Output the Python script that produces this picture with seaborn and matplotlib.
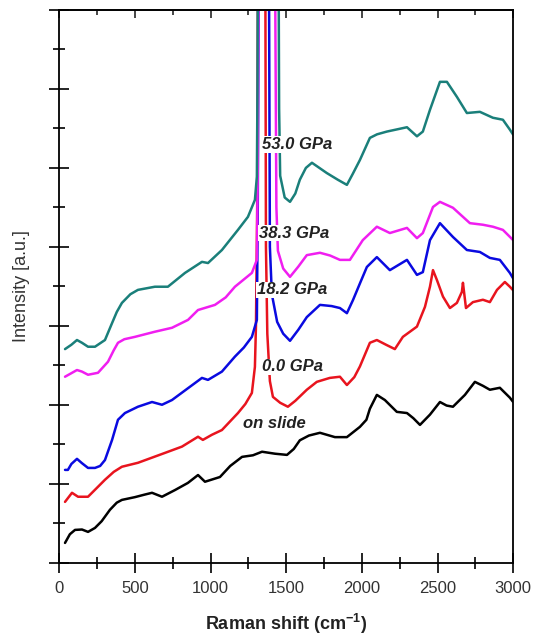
import pandas as pd
import matplotlib
matplotlib.use('Agg')
import matplotlib.pyplot as plt
from matplotlib.ticker import MultipleLocator
import seaborn as sns

# Spectres (décalés verticalement, unités arbitraires)
shift_slide = [38, 70, 104, 150, 190, 236, 280, 335, 380, 414, 500, 560, 613, 679, 765, 850, 917, 963, 1062,
               1130, 1208, 1280, 1340, 1426, 1505, 1550, 1590, 1650, 1723, 1822, 1901, 1987, 2030, 2053, 2099,
               2152, 2231, 2298, 2340, 2384, 2450, 2516, 2560, 2602, 2681, 2747, 2800, 2846, 2912, 2978, 3000]
int_slide = [0.50, 0.72, 0.83, 0.84, 0.78, 0.88, 1.05, 1.34, 1.52, 1.59, 1.66, 1.72, 1.77, 1.67, 1.84, 2.02,
             2.22, 2.05, 2.17, 2.45, 2.68, 2.72, 2.81, 2.76, 2.73, 2.88, 3.10, 3.22, 3.29, 3.18, 3.18, 3.44,
             3.62, 3.90, 4.25, 4.12, 3.82, 3.79, 3.66, 3.49, 3.75, 4.07, 3.98, 3.95, 4.25, 4.58, 4.48, 4.38,
             4.43, 4.18, 4.07]

shift_0 = [38, 84, 124, 190, 250, 302, 360, 414, 520, 698, 811, 917, 949, 1009, 1075, 1181, 1230, 1273, 1293,
           1300, 1308, 1313, 1320, 1355, 1362, 1366, 1375, 1392, 1412, 1460, 1511, 1560, 1636, 1702, 1788,
           1855, 1901, 1950, 1987, 2053, 2099, 2160, 2218, 2271, 2364, 2417, 2450, 2470, 2496, 2536, 2582,
           2628, 2661, 2668, 2688, 2734, 2800, 2846, 2893, 2945, 2978, 3000]
int_0 = [1.54, 1.77, 1.67, 1.67, 1.90, 2.10, 2.30, 2.43, 2.53, 2.78, 2.94, 3.19, 3.11, 3.24, 3.36, 3.79, 4.02,
         4.30, 4.96, 6.0, 9.0, 15, 40, 40, 15, 8.0, 5.8, 4.6, 4.2, 4.05, 3.95, 4.1, 4.38, 4.58, 4.68, 4.71,
         4.50, 4.70, 4.97, 5.57, 5.64, 5.52, 5.41, 5.72, 5.98, 6.48, 6.99, 7.41, 7.16, 6.74, 6.45, 6.58,
         6.86, 7.09, 6.45, 6.60, 6.66, 6.60, 6.91, 7.11, 6.99, 6.90]

shift_18 = [38, 57, 80, 117, 150, 190, 236, 270, 302, 349, 388, 434, 520, 613, 679, 745, 851, 943, 983, 1075,
            1161, 1220, 1273, 1306, 1312, 1318, 1325, 1380, 1386, 1392, 1405, 1440, 1480, 1525, 1580, 1636,
            1723, 1800, 1855, 1901, 1941, 1990, 2033, 2099, 2185, 2298, 2364, 2403, 2450, 2516, 2602, 2694,
            2780, 2846, 2912, 2978, 3000]
int_18 = [2.35, 2.35, 2.50, 2.63, 2.52, 2.40, 2.40, 2.45, 2.60, 3.11, 3.62, 3.79, 3.95, 4.07, 4.00, 4.12,
          4.42, 4.68, 4.63, 4.84, 5.22, 5.45, 5.72, 6.15, 9, 15, 40, 40, 15, 8.0, 6.8, 6.1, 5.8, 5.62, 5.9,
          6.22, 6.53, 6.50, 6.45, 6.32, 6.65, 7.10, 7.49, 7.74, 7.41, 7.67, 7.29, 7.36, 8.17, 8.60, 8.25,
          7.92, 7.87, 7.72, 7.67, 7.34, 7.20]

shift_38 = [38, 80, 117, 150, 190, 256, 322, 360, 388, 430, 500, 632, 745, 851, 917, 1029, 1100, 1161, 1273,
            1306, 1312, 1318, 1325, 1415, 1425, 1435, 1445, 1480, 1525, 1580, 1636, 1723, 1790, 1855, 1921,
            2006, 2099, 2185, 2298, 2364, 2403, 2470, 2516, 2602, 2714, 2800, 2866, 2932, 3000]
int_38 = [4.71, 4.80, 4.88, 4.84, 4.76, 4.81, 5.09, 5.38, 5.57, 5.66, 5.72, 5.85, 5.95, 6.15, 6.40, 6.53, 6.72,
          6.99, 7.34, 7.67, 10, 16, 40, 40, 16, 9, 7.9, 7.45, 7.24, 7.5, 7.79, 7.85, 7.78, 7.67, 7.67,
          8.17, 8.51, 8.35, 8.48, 8.22, 8.35, 9.01, 9.14, 8.99, 8.60, 8.56, 8.51, 8.43, 8.17]

shift_53 = [38, 80, 117, 150, 190, 236, 302, 349, 380, 414, 470, 520, 632, 718, 831, 943, 983, 1075, 1181,
            1247, 1293, 1306, 1310, 1314, 1320, 1440, 1448, 1453, 1460, 1490, 1525, 1560, 1590, 1630, 1670,
            1768, 1841, 1901, 1940, 1987, 2053, 2100, 2165, 2298, 2364, 2403, 2450, 2516, 2562, 2628, 2694,
            2780, 2866, 2932, 2978, 3000]
int_53 = [5.41, 5.52, 5.64, 5.57, 5.47, 5.47, 5.64, 6.07, 6.35, 6.58, 6.80, 6.91, 6.99, 6.99, 7.34, 7.62,
          7.59, 7.92, 8.43, 8.76, 9.19, 9.78, 12, 17, 40, 40, 17, 11.5, 9.8, 9.25, 9.14, 9.35, 9.70, 10.0,
          10.13, 9.87, 9.70, 9.57, 9.85, 10.20, 10.76, 10.85, 10.92, 11.03, 10.80, 10.92, 11.47, 12.18,
          12.18, 11.80, 11.39, 11.42, 11.27, 11.22, 10.97, 10.84]

labels = ['on slide', '0.0 GPa', '18.2 GPa', '38.3 GPa', '53.0 GPa']
colors = ['black', '#e8141e', '#0a0ae0', '#f01ef0', '#1a7f7a']
label_x = [1214, 1340, 1306, 1320, 1340]
label_y = [3.52, 4.96, 6.91, 8.35, 10.59]

series = [(shift_slide, int_slide), (shift_0, int_0), (shift_18, int_18),
          (shift_38, int_38), (shift_53, int_53)]

sns.set_style('ticks')
plt.rcParams['font.family'] = ['Liberation Sans', 'DejaVu Sans']
plt.rcParams['mathtext.fontset'] = 'custom'
plt.rcParams['mathtext.rm'] = 'Liberation Sans'
plt.rcParams['mathtext.bf'] = 'Liberation Sans:bold'

fig = plt.figure(figsize=(5.34, 6.36), dpi=100)
ax = fig.add_axes([0.111, 0.1153, 0.850, 0.869])

for (sx, sy), lab, c in zip(series, labels, colors):
    df = pd.DataFrame({'shift': sx, 'intensity': sy})
    sns.lineplot(data=df, x='shift', y='intensity', color=c, lw=1.8,
                 estimator=None, sort=False, ax=ax, legend=False)

for lab, lx, ly in zip(labels, label_x, label_y):
    ax.text(lx, ly, lab, fontsize=12, fontweight='bold', fontstyle='italic', color='#222222',
            ha='left', va='center', zorder=5,
            bbox=dict(facecolor='white', edgecolor='none', pad=0.5))

ax.set_xlim(0, 3000)
ax.set_ylim(0, 14)
ax.xaxis.set_major_locator(MultipleLocator(500))
ax.xaxis.set_minor_locator(MultipleLocator(250))
ax.yaxis.set_major_locator(MultipleLocator(2))
ax.yaxis.set_minor_locator(MultipleLocator(1))
ax.tick_params(axis='both', which='both', bottom=True, left=True, top=False, right=False)
ax.tick_params(axis='both', which='major', direction='inout', length=14, width=1.2,
               color='black', labelsize=12, labelcolor='#333333', pad=6)
ax.tick_params(axis='both', which='minor', direction='inout', length=8, width=1.2, color='black')
ax.tick_params(axis='y', labelleft=False)

top = ax.secondary_xaxis('top')
top.xaxis.set_major_locator(MultipleLocator(500))
top.xaxis.set_minor_locator(MultipleLocator(250))
top.tick_params(which='both', top=True)
top.tick_params(which='major', direction='in', length=6, width=1.2, labeltop=False)
top.tick_params(which='minor', direction='in', length=3.5, width=1.2)

for sp in ax.spines.values():
    sp.set_color('black')
    sp.set_linewidth(1.3)
top.spines['top'].set_linewidth(1.3)

ax.set_xlabel(r'Raman shift (cm$^{\mathbf{-1}}$)', fontsize=13, fontweight='bold', color='#222222', labelpad=12)
ax.set_ylabel('Intensity [a.u.]', fontsize=13, color='#333333', labelpad=14)

plt.savefig('out.png', dpi=100)
